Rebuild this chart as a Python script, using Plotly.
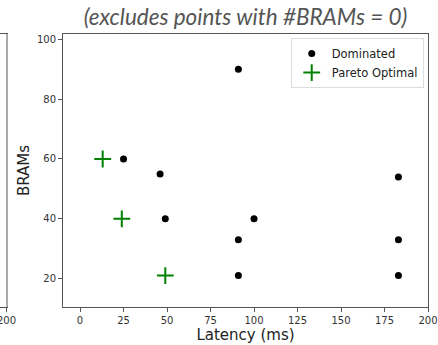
import plotly.graph_objects as go

# Data
dom_latency = [25, 46, 49, 91, 100, 91, 91, 183, 183, 183]
dom_brams = [60, 55, 40, 90, 40, 33, 21, 54, 33, 21]
par_latency = [13, 24, 49]
par_brams = [60, 40, 21]
x_ticks = [0, 25, 50, 75, 100, 125, 150, 175, 200]
y_ticks = [20, 40, 60, 80, 100]
neighbour_tick = "200"

W, H = 438, 345
ml, mr, mt, mb = 0, 10, 34, 38
pw = W - ml - mr

fig = go.Figure()
fig.add_trace(go.Scatter(
    x=dom_latency, y=dom_brams, mode="markers", name="Dominated",
    marker=dict(symbol="circle", size=7, color="black"),
))
fig.add_trace(go.Scatter(
    x=par_latency, y=par_brams, mode="markers", name="Pareto Optimal",
    marker=dict(symbol="cross-thin", size=12, color="#008000",
                line=dict(color="#008000", width=2)),
))
# partial neighbouring subplot at the left edge (only its right frame visible)
fig.add_trace(go.Scatter(x=[None], y=[None], xaxis="x2", yaxis="y2",
                         showlegend=False, hoverinfo="skip"))

axis_common = dict(
    showline=True, mirror=True, linecolor="#555", linewidth=1,
    ticks="outside", ticklen=4, tickcolor="#555", tickwidth=1,
    showgrid=False, zeroline=False, automargin=False,
    tickfont=dict(family="DejaVu Sans", size=10, color="#333"),
)

fig.update_layout(
    width=W, height=H,
    margin=dict(l=ml, r=mr, t=mt, b=mb, pad=0),
    paper_bgcolor="white", plot_bgcolor="white",
    title=dict(text="<i>(excludes points with #BRAMs = 0)</i>",
               x=(63 + 428) / 2 / W, xanchor="center", y=1 - 17 / H, yanchor="middle",
               font=dict(family="Lato", size=22.5, color="#555")),
    xaxis=dict(domain=[63 / pw, 1], range=[-9.8, 200], tickvals=x_ticks,
               title=dict(text="Latency (ms)", standoff=4,
                          font=dict(family="DejaVu Sans", size=15, color="#222")),
               **axis_common),
    yaxis=dict(range=[10.5, 101.8], tickvals=y_ticks,
               title=dict(text="BRAMs", standoff=3,
                          font=dict(family="DejaVu Sans", size=15, color="#222")),
               **axis_common),
    xaxis2=dict(domain=[0, 6 / pw], range=[150, 200], tickvals=[200],
                showticklabels=False, anchor="y2", **axis_common),
    yaxis2=dict(domain=[0, 1], range=[0, 1], anchor="x2", side="right",
                showticklabels=False, ticks="", showline=True, mirror=False,
                linecolor="#aaa", linewidth=1.5,
                showgrid=False, zeroline=False, automargin=False),
    legend=dict(x=0.99, xanchor="right", y=0.985, yanchor="top",
                bgcolor="rgba(255,255,255,0.9)", bordercolor="#ddd", borderwidth=1,
                font=dict(family="DejaVu Sans", size=11.5, color="#222"),
                itemsizing="trace", tracegroupgap=0),
    showlegend=True,
)
fig.add_annotation(text=neighbour_tick, xref="x2", x=200, yref="paper", y=0,
                   yshift=-6, yanchor="top", xanchor="center", showarrow=False,
                   font=dict(family="DejaVu Sans", size=10, color="#333"))

fig.write_html("out.html", config={"displayModeBar": False},
               post_script="document.body.style.margin='0';document.body.style.overflow='hidden';")
